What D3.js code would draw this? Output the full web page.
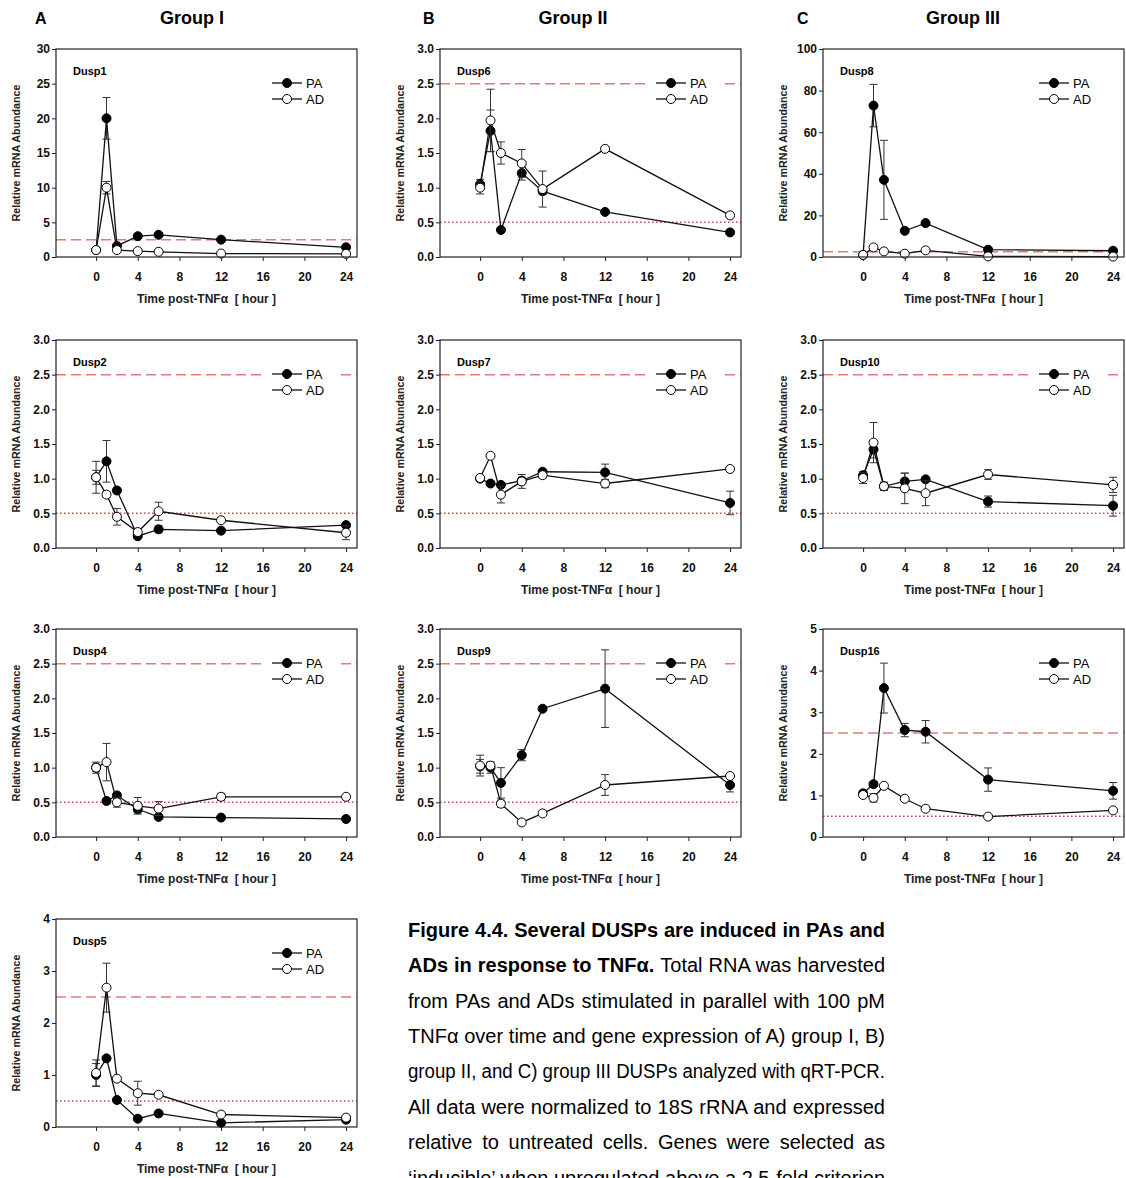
<!DOCTYPE html>
<html>
<head>
<meta charset="utf-8">
<script src="https://cdn.jsdelivr.net/npm/d3@7"></script>
<style>
  body { margin: 0; background: #fff; width: 1126px; height: 1178px; overflow: hidden; }
  svg { display: block; }
  .axis text { font-family: "Liberation Sans", Arial, sans-serif; font-weight: bold; font-size: 12px; fill: #111; }
  .axis line { stroke: #222; }
</style>
</head>
<body>
<div id="vis"></div>
<script>
var hours = [0, 1, 2, 4, 6, 12, 24];
var hour_ticks = [0, 4, 8, 12, 16, 20, 24];
var series_names = ["PA", "AD"];
var group_letters = ["A", "B", "C"];
var group_titles = ["Group I", "Group II", "Group III"];
var induced_level = 2.5;
var repressed_level = 0.5;

// values (mean, +/- error)
var dusp1_pa = [1.0, 20.0, 1.6, 3.0, 3.2, 2.5, 1.4];
var dusp1_pa_err = [0.1, 3.0, 0.2, 0.2, 0.2, 0.1, 0.2];
var dusp1_ad = [1.0, 10.0, 1.0, 0.85, 0.75, 0.5, 0.45];
var dusp1_ad_err = [0.1, 0.9, 0.1, 0.1, 0.1, 0.05, 0.05];

var dusp6_pa = [1.05, 1.82, 0.39, 1.21, 0.95, 0.65, 0.355];
var dusp6_pa_err = [0.07, 0.3, 0.02, 0.1, 0.05, 0.02, 0.02];
var dusp6_ad = [1.0, 1.97, 1.5, 1.35, 0.98, 1.56, 0.6];
var dusp6_ad_err = [0.09, 0.45, 0.16, 0.2, 0.26, 0.03, 0.02];

var dusp8_pa = [1.0, 72.8, 37.1, 12.6, 16.3, 3.5, 3.0];
var dusp8_pa_err = [0.5, 10.2, 19.0, 0.8, 0.8, 0.5, 0.5];
var dusp8_ad = [1.0, 4.6, 2.7, 1.6, 3.2, 0.3, 0.2];
var dusp8_ad_err = [0.3, 0.5, 0.3, 0.3, 0.3, 0.1, 0.1];

var dusp2_pa = [1.02, 1.25, 0.83, 0.17, 0.27, 0.25, 0.33];
var dusp2_pa_err = [0.1, 0.3, 0.02, 0.03, 0.05, 0.02, 0.03];
var dusp2_ad = [1.02, 0.77, 0.45, 0.23, 0.53, 0.4, 0.22];
var dusp2_ad_err = [0.23, 0.04, 0.12, 0.04, 0.13, 0.02, 0.1];

var dusp7_pa = [1.0, 0.93, 0.91, 0.97, 1.1, 1.09, 0.65];
var dusp7_pa_err = [0.02, 0.02, 0.03, 0.05, 0.03, 0.12, 0.17];
var dusp7_ad = [1.01, 1.33, 0.77, 0.96, 1.05, 0.93, 1.14];
var dusp7_ad_err = [0.02, 0.02, 0.12, 0.1, 0.04, 0.06, 0.02];

var dusp10_pa = [1.05, 1.42, 0.89, 0.96, 0.99, 0.67, 0.61];
var dusp10_pa_err = [0.05, 0.12, 0.05, 0.12, 0.03, 0.08, 0.15];
var dusp10_ad = [1.01, 1.52, 0.89, 0.86, 0.79, 1.06, 0.91];
var dusp10_ad_err = [0.08, 0.29, 0.06, 0.22, 0.18, 0.07, 0.11];

var dusp4_pa = [1.0, 0.52, 0.6, 0.4, 0.29, 0.28, 0.26];
var dusp4_pa_err = [0.05, 0.02, 0.03, 0.05, 0.02, 0.02, 0.03];
var dusp4_ad = [1.0, 1.08, 0.5, 0.45, 0.41, 0.58, 0.58];
var dusp4_ad_err = [0.08, 0.27, 0.07, 0.12, 0.1, 0.05, 0.02];

var dusp9_pa = [1.02, 1.0, 0.78, 1.18, 1.85, 2.14, 0.75];
var dusp9_pa_err = [0.1, 0.08, 0.22, 0.08, 0.02, 0.56, 0.1];
var dusp9_ad = [1.03, 1.03, 0.48, 0.21, 0.34, 0.75, 0.88];
var dusp9_ad_err = [0.15, 0.05, 0.05, 0.02, 0.02, 0.15, 0.02];

var dusp16_pa = [1.05, 1.27, 3.58, 2.57, 2.53, 1.38, 1.11];
var dusp16_pa_err = [0.05, 0.05, 0.6, 0.16, 0.27, 0.28, 0.2];
var dusp16_ad = [1.01, 0.94, 1.23, 0.92, 0.68, 0.49, 0.64];
var dusp16_ad_err = [0.03, 0.1, 0.03, 0.03, 0.03, 0.02, 0.03];

var dusp5_pa = [1.0, 1.32, 0.52, 0.16, 0.26, 0.08, 0.14];
var dusp5_pa_err = [0.22, 0.02, 0.02, 0.02, 0.04, 0.02, 0.02];
var dusp5_ad = [1.04, 2.68, 0.93, 0.65, 0.62, 0.24, 0.18];
var dusp5_ad_err = [0.25, 0.47, 0.02, 0.23, 0.02, 0.02, 0.02];

var genes = ["Dusp1", "Dusp6", "Dusp8", "Dusp2", "Dusp7", "Dusp10", "Dusp4", "Dusp9", "Dusp16", "Dusp5"];
var y_max = [30, 3, 100, 3, 3, 3, 3, 3, 5, 4];
var y_step = [5, 0.5, 20, 0.5, 0.5, 0.5, 0.5, 0.5, 1, 1];
var pa_means = [dusp1_pa, dusp6_pa, dusp8_pa, dusp2_pa, dusp7_pa, dusp10_pa, dusp4_pa, dusp9_pa, dusp16_pa, dusp5_pa];
var pa_errs = [dusp1_pa_err, dusp6_pa_err, dusp8_pa_err, dusp2_pa_err, dusp7_pa_err, dusp10_pa_err, dusp4_pa_err, dusp9_pa_err, dusp16_pa_err, dusp5_pa_err];
var ad_means = [dusp1_ad, dusp6_ad, dusp8_ad, dusp2_ad, dusp7_ad, dusp10_ad, dusp4_ad, dusp9_ad, dusp16_ad, dusp5_ad];
var ad_errs = [dusp1_ad_err, dusp6_ad_err, dusp8_ad_err, dusp2_ad_err, dusp7_ad_err, dusp10_ad_err, dusp4_ad_err, dusp9_ad_err, dusp16_ad_err, dusp5_ad_err];

var caption_lines = [
  [["Figure 4.4. Several DUSPs are induced in PAs and", true]],
  [["ADs in response to TNFα.", true], [" Total RNA was harvested", false]],
  [["from PAs and ADs stimulated in parallel with 100 pM", false]],
  [["TNFα over time and gene expression of A) group I, B)", false]],
  [["group II, and C) group III DUSPs analyzed with qRT-PCR.", false]],
  [["All data were normalized to 18S rRNA and expressed", false]],
  [["relative to untreated cells. Genes were selected as", false]],
  [["‘inducible’ when upregulated above a 2.5-fold criterion", false]]
];

// layout
var width = 1126, height = 1178;
var col_left = [56, 440, 823];
var row_top = [49, 340, 629, 919];
var plot_w = 301, plot_h = 208;
var letter_x = [35, 423, 797];
var title_x = [192, 573, 963];
var font = '"Liberation Sans", Arial, sans-serif';

var svg = d3.select("#vis").append("svg")
  .attr("width", width)
  .attr("height", height);

// group headers
group_letters.forEach(function(l, i){
  svg.append("text").attr("x", letter_x[i]).attr("y", 24)
    .style("font-family", font).style("font-weight", "bold").style("font-size", "16px")
    .text(l);
  svg.append("text").attr("x", title_x[i]).attr("y", 24)
    .attr("text-anchor", "middle")
    .style("font-family", font).style("font-weight", "bold").style("font-size", "18px")
    .text(group_titles[i]);
});

var x_scale = d3.scaleLinear().domain([-3.85, 25.05]).range([0, plot_w]);

genes.forEach(function(gene, i){
  var col = i % 3, row = Math.floor(i / 3);
  var g = svg.append("g")
    .attr("transform", "translate(" + col_left[col] + "," + row_top[row] + ")");

  var y_scale = d3.scaleLinear().domain([0, y_max[i]]).range([plot_h, 0]);
  var y_ticks = d3.range(0, y_max[i] + y_step[i] / 2, y_step[i]);
  var fmt = y_step[i] < 1 ? d3.format(".1f") : d3.format("d");

  // axes
  g.append("g").attr("class", "axis")
    .attr("transform", "translate(0," + plot_h + ")")
    .call(d3.axisBottom(x_scale).tickValues(hour_ticks).tickSize(4).tickPadding(11))
    .call(a => a.select(".domain").remove());
  g.append("g").attr("class", "axis")
    .call(d3.axisLeft(y_scale).tickValues(y_ticks).tickFormat(fmt).tickSize(4).tickPadding(2))
    .call(a => a.select(".domain").remove());

  // reference lines
  g.append("line")
    .attr("x1", 0).attr("x2", plot_w)
    .attr("y1", y_scale(induced_level)).attr("y2", y_scale(induced_level))
    .attr("stroke", "#e27a7a").attr("stroke-width", 1.5)
    .attr("stroke-dasharray", "10,5");
  // the 0.5 line is buried in the axis on the tall scales
  if (plot_h - y_scale(repressed_level) > 5) {
    g.append("line")
      .attr("x1", 0).attr("x2", plot_w)
      .attr("y1", y_scale(repressed_level)).attr("y2", y_scale(repressed_level))
      .attr("stroke", "#c84848").attr("stroke-width", 1.5)
      .attr("stroke-dasharray", "1.5,2.5");
  }

  // legend background
  g.append("rect").attr("x", 209).attr("y", 24).attr("width", 73).attr("height", 35)
    .attr("fill", "#fff");

  var series = [
    {name: series_names[0], mean: pa_means[i], err: pa_errs[i], fill: "#000"},
    {name: series_names[1], mean: ad_means[i], err: ad_errs[i], fill: "#fff"}
  ];

  var line = d3.line().x(d => x_scale(d.t)).y(d => y_scale(d.v));

  series.forEach(function(s){
    var pts = hours.map(function(t, k){ return {t: t, v: s.mean[k], e: s.err[k]}; });

    var eb = g.append("g").selectAll(".err").data(pts).enter().append("g").attr("class", "err")
      .attr("stroke", "#333").attr("stroke-width", 1);
    eb.append("line")
      .attr("x1", d => x_scale(d.t)).attr("x2", d => x_scale(d.t))
      .attr("y1", d => y_scale(Math.max(0, d.v - d.e))).attr("y2", d => y_scale(d.v + d.e));
    eb.append("line")
      .attr("x1", d => x_scale(d.t) - 4).attr("x2", d => x_scale(d.t) + 4)
      .attr("y1", d => y_scale(d.v + d.e)).attr("y2", d => y_scale(d.v + d.e));
    eb.append("line")
      .attr("x1", d => x_scale(d.t) - 4).attr("x2", d => x_scale(d.t) + 4)
      .attr("y1", d => y_scale(Math.max(0, d.v - d.e))).attr("y2", d => y_scale(Math.max(0, d.v - d.e)));

    g.append("path").datum(pts)
      .attr("d", line)
      .attr("fill", "none").attr("stroke", "#111").attr("stroke-width", 1.3);

    g.append("g").selectAll("circle").data(pts).enter().append("circle")
      .attr("cx", d => x_scale(d.t)).attr("cy", d => y_scale(d.v))
      .attr("r", 4.5)
      .attr("fill", s.fill).attr("stroke", "#000").attr("stroke-width", 1);
  });

  // legend
  series.forEach(function(s, k){
    var ly = 34 + k * 16;
    g.append("line").attr("x1", 216).attr("x2", 246).attr("y1", ly).attr("y2", ly)
      .attr("stroke", "#111").attr("stroke-width", 1.3);
    g.append("circle").attr("cx", 231).attr("cy", ly).attr("r", 4.5)
      .attr("fill", s.fill).attr("stroke", "#000");
    g.append("text").attr("x", 250).attr("y", ly).attr("dy", "0.35em")
      .style("font-family", font).style("font-size", "13px")
      .text(s.name);
  });

  // frame
  g.append("rect").attr("width", plot_w).attr("height", plot_h)
    .attr("fill", "none").attr("stroke", "#222").attr("stroke-width", 1.2);

  // labels
  g.append("text").attr("x", 17).attr("y", 26)
    .style("font-family", font).style("font-weight", "bold").style("font-size", "11px")
    .text(gene);
  g.append("text")
    .attr("transform", "translate(-40," + plot_h / 2 + ") rotate(-90)")
    .attr("text-anchor", "middle").attr("dominant-baseline", "central")
    .style("font-family", font).style("font-weight", "bold").style("font-size", "10.7px")
    .style("fill", "#222")
    .text("Relative mRNA Abundance");
  g.append("text")
    .attr("x", plot_w / 2).attr("y", plot_h + 42)
    .attr("text-anchor", "middle").attr("dominant-baseline", "central")
    .style("font-family", font).style("font-weight", "bold").style("font-size", "12px")
    .style("white-space", "pre").style("fill", "#222")
    .text("Time post-TNFα  [ hour ]");
});

// caption, justified line by line
var cap_left = 408, cap_right = 885, cap_base = 936.7, cap_lead = 35.4;
caption_lines.forEach(function(parts, k){
  var t = svg.append("text")
    .attr("x", cap_left).attr("y", cap_base + k * cap_lead)
    .style("font-family", '"Liberation Sans Narrow", "Arial Narrow", "Liberation Sans", sans-serif')
    .style("font-size", "20px")
    .style("white-space", "pre");
  parts.forEach(function(p){
    t.append("tspan").style("font-weight", p[1] ? "bold" : "normal").text(p[0]);
  });
  var full = parts.map(p => p[0]).join("");
  var n_spaces = (full.trim().match(/ /g) || []).length;
  var w = t.node().getComputedTextLength();
  var target = cap_right - cap_left;
  if (w < target && n_spaces > 0) {
    t.attr("word-spacing", (target - w) / n_spaces);
  } else if (w > target) {
    t.attr("textLength", target).attr("lengthAdjust", "spacingAndGlyphs");
  }
});
</script>
</body>
</html>
